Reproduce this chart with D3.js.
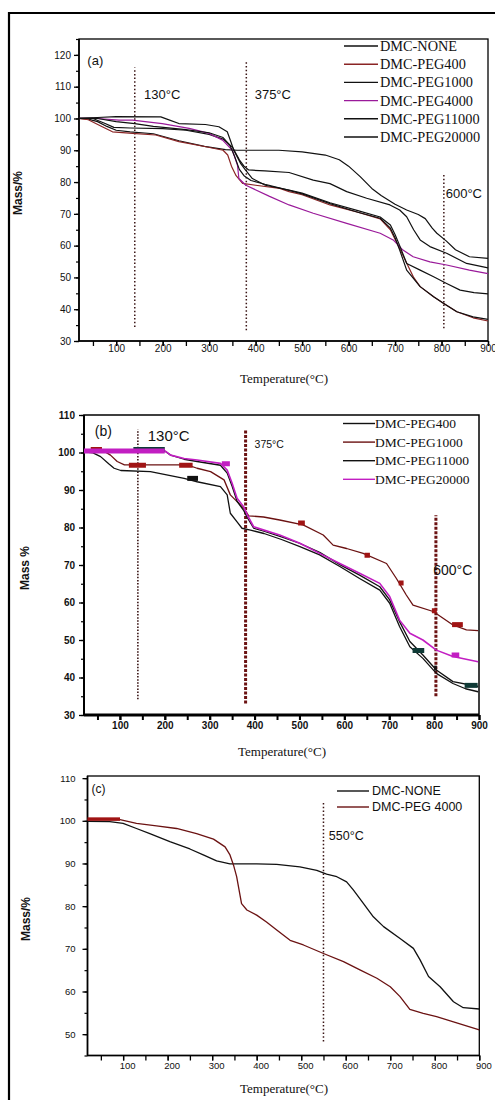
<!DOCTYPE html>
<html><head><meta charset="utf-8">
<script src="https://cdn.jsdelivr.net/npm/d3@7"></script>
<style>body{margin:0;background:#fff}svg{display:block}</style>
</head><body>
<svg id="chart" width="495" height="1100"></svg>
<script>
// ---------- DATA (temperature °C, mass %) ----------
// Panel (a)
const A_NONE = [[20,100],[40,99.8],[60,99],[80,97.5],[100,96.3],[130,95.8],[180,95.2],[235,93],[290,91.2],[335,90.2],[360,90],[450,90],[500,89.5],[550,88.5],[580,87],[600,85],[625,81.7],[650,78],[670,75.8],[700,73],[725,71.2],[750,69.8],[765,68.5],[780,65.5],[790,63.9],[810,61.5],[830,58.7],[860,56.5],[900,56]];
const A_PEG400 = [[20,100],[40,99.6],[70,97.4],[92,95.8],[135,95.3],[185,94.8],[235,92.7],[293,91.1],[330,90],[340,88.5],[348,85],[358,82],[372,79.6],[400,79],[452,78],[472,77],[500,76],[560,72.8],[620,70.5],[668,68.4],[690,65],[700,62],[712,58.5],[725,54.5],[740,50],[754,47.1],[783,43.9],[804,41.9],[833,39.2],[868,37.3],[900,36.3]];
const A_PEG1000 = [[20,100],[50,100],[75,98.5],[95,97.2],[130,97],[200,96.8],[250,96.3],[300,95],[330,93.5],[350,91],[365,87],[375,85],[385,83.8],[420,83.5],[472,83],[524,80.6],[560,79.5],[596,77],[639,74.9],[689,72.8],[710,71.2],[725,69.1],[740,65],[754,61.8],[775,59.7],[811,57.6],[854,54.4],[900,53]];
const A_PEG4000 = [[20,100],[60,100],[106,99.5],[135,99.5],[199,98.4],[257,96.9],[300,95.3],[329,93.2],[350,90],[361,85.3],[364,81.1],[379,79],[430,75.5],[472,72.8],[524,70.2],[596,67],[668,63.9],[696,61.8],[717,58.6],[739,56.5],[775,54.9],[811,53.9],[860,52.3],[900,51.2]];
const A_PEG11000 = [[20,100],[60,100],[100,99],[140,98.4],[180,97.5],[250,96.5],[300,95.5],[330,94],[345,91.5],[355,88],[365,84],[375,82],[390,80.5],[420,79.3],[472,77.4],[500,76.3],[560,73.2],[620,70.5],[668,68.6],[690,65.5],[700,62.5],[710,58.6],[725,52.3],[754,47.1],[783,43.9],[804,41.9],[833,39.2],[868,37.6],[900,36.8]];
const A_PEG20000 = [[20,100],[60,100.3],[100,100.6],[196,100.5],[215,99.5],[235,98.4],[292,98.1],[321,97.4],[339,95.8],[346,93],[353,90],[368,85.8],[378,83.8],[393,81.1],[421,79],[472,77.5],[500,76.5],[560,73.5],[620,71],[668,69],[690,66.5],[700,63.5],[710,60],[725,54.4],[754,52.3],[783,50.2],[811,48.1],[840,46],[870,45.2],[900,44.8]];
// Panel (b)
const B_PEG400 = [[20,100.2],[40,99.9],[57,98.9],[75,97],[87,95.8],[102,95.2],[168,94.9],[243,93.1],[272,92.2],[324,90.9],[339,88.7],[346,83.8],[361,81.5],[372,79.8],[391,79.3],[421,78.4],[460,76.8],[501,74.9],[545,72.7],[590,69.6],[634,66.4],[679,63.3],[701,59.8],[723,53.6],[746,48.2],[775,45.1],[805,41.1],[842,38.4],[870,37],[898,36.2]];
const B_PEG1000 = [[20,100.7],[60,100.7],[79,99.3],[94,97.6],[110,96.7],[250,96.7],[272,95.8],[302,94.9],[332,92.7],[346,88.7],[361,86.9],[376,85.1],[387,83.1],[420,82.8],[456,82],[508,80.7],[553,78],[575,75.3],[605,74.4],[642,73.1],[694,70.4],[716,66.4],[738,62],[753,59.3],[798,57.6],[842,54],[872,52.7],[898,52.5]];
const B_PEG11000 = [[20,100.3],[200,100.4],[213,99.3],[243,98.2],[272,97.6],[324,96.6],[339,94.5],[350,91],[361,87],[376,84.5],[384,82.6],[398,79.8],[421,79],[465,77.3],[500,75.8],[545,73.4],[590,70.1],[634,67.3],[679,64.2],[701,60.7],[723,54.9],[746,49.6],[775,46],[805,42],[842,38.9],[898,37.6]];
const B_PEG20000 = [[20,100.3],[202,100.3],[213,99.3],[243,98.4],[272,98],[324,97.1],[339,95.3],[350,91.8],[361,87.8],[376,85.5],[384,83.3],[398,80.2],[421,79.3],[456,78],[501,75.8],[545,73.1],[590,70.4],[634,67.8],[679,65.1],[701,61.6],[723,55.3],[746,51.8],[775,50],[805,47.3],[842,45.6],[898,44.2]];
// symbol blocks on (b) curves: [T start, T end, mass, series index]
const B_BLOCKS = [[35,60,100.8,1],[120,158,96.6,1],[232,262,96.6,1],[497,512,81.2,1],[645,657,72.6,1],[721,732,65.2,1],[795,806,57.8,1],[840,864,54.1,1],
  [130,200,100.8,2],[250,274,93.1,0],[752,778,47.2,2],[868,897,37.9,2],[800,806,42.5,0],
  [20,200,100.4,3],[327,345,97,3],[839,856,46,3]];
// Panel (c)
const C_NONE = [[20,99.9],[70,99.8],[100,99.4],[130,98.2],[160,97],[205,95.1],[250,93.4],[280,92],[310,90.6],[340,89.9],[400,89.9],[445,89.8],[497,89.2],[535,88.4],[557,87.5],[580,86.9],[602,85.7],[617,83.8],[640,80.6],[662,77.5],[685,75.2],[722,72.4],[752,70.1],[767,67.4],[786,63.5],[812,61.1],[842,57.6],[864,56.2],[900,55.9]];
const C_PEG4000 = [[20,100.3],[93,100.3],[130,99.4],[175,98.8],[220,98.2],[265,97],[303,95.7],[329,93.9],[340,92],[348,89.6],[355,86.9],[366,80.6],[378,79.1],[400,77.9],[422,76.3],[445,74.4],[475,72],[505,70.9],[550,68.9],[595,67],[633,65],[670,63.1],[700,61.1],[722,58.8],[744,55.8],[774,54.9],[804,54.1],[842,52.9],[900,51]];
const C_BLOCKS = [[20,93,100.4,1]];

const A_NAMES = ["DMC-NONE","DMC-PEG400","DMC-PEG1000","DMC-PEG4000","DMC-PEG11000","DMC-PEG20000"];
const B_NAMES = ["DMC-PEG400","DMC-PEG1000","DMC-PEG11000","DMC-PEG20000"];
const C_NAMES = ["DMC-NONE","DMC-PEG 4000"];
const A_YTICKS = [30,40,50,60,70,80,90,100,110,120];
const B_YTICKS = [30,40,50,60,70,80,90,100,110];
const C_YTICKS = [50,60,70,80,90,100,110];
const X_TICKS = [100,200,300,400,500,600,700,800,900];
const A_VLINES = [[140,34.4,116],[380,33.4,118],[805,34,82.6]];
const B_VLINES = [[140,34.2,106.2],[380,33.1,106],[804,35,83.3]];
const C_VLINES = [[550,48.3,104.2]];
const A_ANN = [["(a)",38,116.8],["130°C",160,106],["375°C",398,106],["600°C",809,75]];
const B_ANN = [["(b)",44,104.4],["130°C",162,103],["375°C",400,101.2],["600°C",798,67.3]];
const C_ANN = [["(c)",29,106.5],["550°C",562,95.5]];

// ---------- DRAWING ----------
const svg = d3.select("#chart");
const SANS = "'Liberation Sans', Arial, sans-serif";
const SERIF = "'Liberation Serif', 'Times New Roman', serif";
const BROWN = "#8a2424", PURPLE = "#9a1a9a", MAG = "#c21ec2", DRED = "#6b1212";

svg.append("path").attr("d","M9,1100 V13 H495").attr("fill","none").attr("stroke","#000").attr("stroke-width",2.2);

function panel(cfg){
  const g = svg.append("g");
  const x = d3.scaleLinear().domain([20,900]).range([cfg.l,cfg.r]);
  const y = d3.scaleLinear().domain(cfg.yd).range([cfg.b,cfg.t]);
  const xMinor = d3.range(50,901,50);
  const yMinor = d3.range(Math.ceil(cfg.yd[0]/5)*5, cfg.yd[1]+0.01, 5);
  g.append("g").attr("transform",`translate(0,${cfg.b})`)
    .call(d3.axisBottom(x).tickValues(xMinor).tickSize(cfg.xts).tickFormat(""))
    .call(s=>{s.select(".domain").remove(); s.selectAll("line").attr("stroke-width",cfg.tw);});
  g.append("g").attr("transform",`translate(${cfg.l},0)`)
    .call(d3.axisLeft(y).tickValues(yMinor).tickSize(3).tickFormat(""))
    .call(s=>{s.select(".domain").remove(); s.selectAll("line").attr("stroke-width",1.2);});
  g.append("g").attr("transform",`translate(0,${cfg.b})`)
    .call(d3.axisBottom(x).tickValues(X_TICKS).tickSize(cfg.xts).tickSizeOuter(0))
    .call(s=>{s.select(".domain").remove(); s.selectAll("line").attr("stroke-width",cfg.tw);
      s.selectAll("text").attr("font-family",SANS).attr("font-size",cfg.fs).attr("font-weight",cfg.fw).attr("dy",cfg.xdy).attr("dx",cfg.xdx||0).attr("fill","#111");});
  g.append("g").attr("transform",`translate(${cfg.l},0)`)
    .call(d3.axisLeft(y).tickValues(cfg.yt).tickSize(5).tickSizeOuter(0))
    .call(s=>{s.select(".domain").remove(); s.selectAll("line").attr("stroke-width",1.3);
      s.selectAll("text").attr("font-family",SANS).attr("font-size",cfg.fs).attr("font-weight",cfg.fw).attr("x",cfg.ylx).attr("fill","#111");});
  g.append("rect").attr("x",cfg.l).attr("y",cfg.t).attr("width",cfg.r-cfg.l).attr("height",cfg.b-cfg.t)
    .attr("fill","none").attr("stroke","#000").attr("stroke-width",cfg.fw2);
  g.append("line").attr("x1",cfg.l).attr("x2",cfg.r).attr("y1",cfg.b).attr("y2",cfg.b).attr("stroke","#000").attr("stroke-width",cfg.bw);
  g.append("line").attr("x1",cfg.l).attr("x2",cfg.l).attr("y1",cfg.t).attr("y2",cfg.b).attr("stroke","#000").attr("stroke-width",cfg.lw);
  cfg.vlines.forEach((v,i)=>{
    const st = cfg.vstyle[i];
    g.append("line").attr("x1",x(v[0])).attr("x2",x(v[0])).attr("y1",y(v[1])).attr("y2",y(v[2]))
      .attr("stroke",st.c).attr("stroke-width",st.w).attr("stroke-dasharray",st.d);
  });
  const line = d3.line().x(d=>x(d[0])).y(d=>y(d[1]));
  cfg.series.forEach(s=>{
    g.append("path").datum(s.data).attr("d",line).attr("fill","none")
      .attr("stroke",s.c).attr("stroke-width",s.w).attr("stroke-linejoin","round");
  });
  (cfg.blocks||[]).forEach(b=>{
    g.append("rect").attr("x",x(b[0])).attr("width",Math.max(2,x(b[1])-x(b[0])))
      .attr("y",y(b[2])-cfg.bh/2).attr("height",cfg.bh).attr("fill",cfg.series[b[3]].bc||cfg.series[b[3]].c);
  });
  cfg.ann.forEach((a,i)=>{
    g.append("text").attr("x",x(a[1])).attr("y",y(a[2])).text(a[0])
      .attr("font-family",SANS).attr("font-size",cfg.annfs[i]).attr("fill","#111");
  });
  cfg.names.forEach((n,i)=>{
    const yy = cfg.leg.y0 + i*cfg.leg.dy;
    g.append("line").attr("x1",cfg.leg.x0).attr("x2",cfg.leg.x1).attr("y1",yy).attr("y2",yy)
      .attr("stroke",cfg.series[i].c).attr("stroke-width",1.4);
    g.append("text").attr("x",cfg.leg.tx).attr("y",yy).attr("dy","0.35em").text(n)
      .attr("font-family",cfg.leg.font).attr("font-size",cfg.leg.fs).attr("fill","#111");
  });
  g.append("text").attr("x",cfg.xt[0]).attr("y",cfg.xt[1]).attr("text-anchor","middle")
    .attr("font-family",SERIF).attr("font-size",13).attr("fill","#111").text("Temperature(°C)");
  g.append("text").attr("transform",`translate(${cfg.ytl[0]},${cfg.ytl[1]}) rotate(-90)`).attr("text-anchor","middle")
    .attr("font-family",SANS).attr("font-size",12).attr("font-weight","bold").attr("fill","#111").text(cfg.ytitle);
}

const dotted = {c:"#3a1515",w:1.5,d:"1.5,2.2"};
panel({l:79,r:488,t:39,b:341,yd:[30,125],yt:A_YTICKS,xts:5,tw:1.3,fs:10,fw:"normal",xdy:"0.3em",ylx:-8,
  fw2:1.3,bw:1.6,lw:1.6,
  vlines:A_VLINES,vstyle:[dotted,dotted,dotted],
  series:[{data:A_NONE,c:"#111",w:1.2},{data:A_PEG400,c:BROWN,w:1.2},{data:A_PEG1000,c:"#111",w:1.2},
          {data:A_PEG4000,c:PURPLE,w:1.2},{data:A_PEG11000,c:"#111",w:1.2},{data:A_PEG20000,c:"#111",w:1.2}],
  ann:A_ANN,annfs:[13,13,13,13],names:A_NAMES,
  leg:{x0:344,x1:378,tx:380,y0:46,dy:18.2,fs:14.3,font:SERIF},
  xt:[284,383],ytl:[22,193],ytitle:"Mass/%"});

const thick = {c:DRED,w:3,d:"3,1.5"};
panel({l:84,r:479,t:415,b:715,yd:[30,110],yt:B_YTICKS,xts:5,tw:2,fs:10,fw:"bold",xdy:"0.6em",ylx:-9,
  fw2:1.5,bw:3,lw:2,
  vlines:B_VLINES,vstyle:[{c:"#3a1515",w:1.6,d:"1.5,1.6"},thick,thick],
  series:[{data:B_PEG400,c:"#111",w:1.3},{data:B_PEG1000,c:DRED,w:1.3,bc:"#a01414"},{data:B_PEG11000,c:"#111",w:1.3,bc:"#0f3a36"},{data:B_PEG20000,c:MAG,w:1.6}],
  blocks:B_BLOCKS,bh:5,
  ann:B_ANN,annfs:[14,15,10.5,14],names:B_NAMES,
  leg:{x0:343,x1:375,tx:375,y0:423.5,dy:18.6,fs:13.5,font:SERIF},
  xt:[282,756],ytl:[29,568],ytitle:"Mass %"});

panel({l:87.5,r:479.3,t:776,b:1055.5,yd:[45,110.5],yt:C_YTICKS,xts:5,tw:1.3,fs:9.5,fw:"normal",xdy:"0.6em",xdx:4,ylx:-12,
  fw2:1.3,bw:1.6,lw:1.6,
  vlines:C_VLINES,vstyle:[dotted],
  series:[{data:C_NONE,c:"#111",w:1.3},{data:C_PEG4000,c:DRED,w:1.3,bc:"#a01414"}],
  blocks:C_BLOCKS,bh:3.5,
  ann:C_ANN,annfs:[12,12.5],names:C_NAMES,
  leg:{x0:337,x1:369,tx:372,y0:791,dy:16,fs:12.5,font:SANS},
  xt:[284,1093],ytl:[30,919],ytitle:"Mass/%"});
</script>
</body></html>
